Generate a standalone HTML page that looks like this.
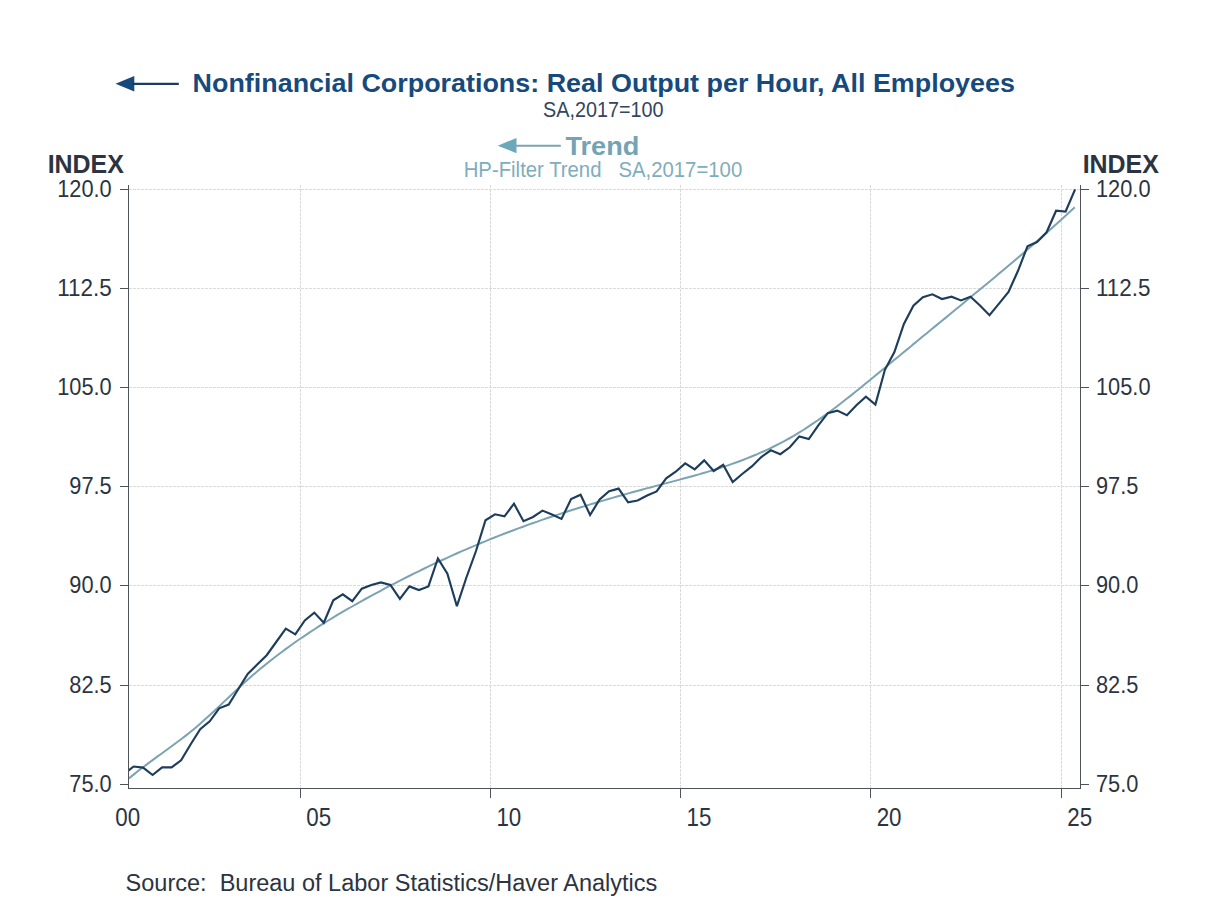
<!DOCTYPE html>
<html><head><meta charset="utf-8"><title>Nonfinancial Corporations: Real Output per Hour</title>
<style>html,body{margin:0;padding:0;background:#fff;width:1208px;height:906px;overflow:hidden;font-family:"Liberation Sans", sans-serif}</style>
</head><body>
<svg width="1208" height="906" viewBox="0 0 1208 906" style="position:absolute;left:0;top:0"><rect width="1208" height="906" fill="#ffffff"/><line x1="129" y1="189.5" x2="1080" y2="189.5" stroke="#dadada" stroke-width="1" stroke-dasharray="3,1"/><line x1="129" y1="288.5" x2="1080" y2="288.5" stroke="#dadada" stroke-width="1" stroke-dasharray="3,1"/><line x1="129" y1="387.5" x2="1080" y2="387.5" stroke="#dadada" stroke-width="1" stroke-dasharray="3,1"/><line x1="129" y1="486.5" x2="1080" y2="486.5" stroke="#dadada" stroke-width="1" stroke-dasharray="3,1"/><line x1="129" y1="585.5" x2="1080" y2="585.5" stroke="#dadada" stroke-width="1" stroke-dasharray="3,1"/><line x1="129" y1="685.5" x2="1080" y2="685.5" stroke="#dadada" stroke-width="1" stroke-dasharray="3,1"/><line x1="300.5" y1="185" x2="300.5" y2="788" stroke="#dadada" stroke-width="1" stroke-dasharray="3,1"/><line x1="490.5" y1="185" x2="490.5" y2="788" stroke="#dadada" stroke-width="1" stroke-dasharray="3,1"/><line x1="680.5" y1="185" x2="680.5" y2="788" stroke="#dadada" stroke-width="1" stroke-dasharray="3,1"/><line x1="870.5" y1="185" x2="870.5" y2="788" stroke="#dadada" stroke-width="1" stroke-dasharray="3,1"/><line x1="1061.5" y1="185" x2="1061.5" y2="788" stroke="#dadada" stroke-width="1" stroke-dasharray="3,1"/><line x1="128.5" y1="185" x2="128.5" y2="789" stroke="#4d5359" stroke-width="1"/><line x1="1080.5" y1="185" x2="1080.5" y2="789" stroke="#4d5359" stroke-width="1"/><line x1="128" y1="788.5" x2="1081" y2="788.5" stroke="#4d5359" stroke-width="1"/><line x1="120" y1="189.5" x2="128.5" y2="189.5" stroke="#4d5359" stroke-width="1"/><line x1="1080.5" y1="189.5" x2="1089" y2="189.5" stroke="#4d5359" stroke-width="1"/><line x1="120" y1="288.5" x2="128.5" y2="288.5" stroke="#4d5359" stroke-width="1"/><line x1="1080.5" y1="288.5" x2="1089" y2="288.5" stroke="#4d5359" stroke-width="1"/><line x1="120" y1="387.5" x2="128.5" y2="387.5" stroke="#4d5359" stroke-width="1"/><line x1="1080.5" y1="387.5" x2="1089" y2="387.5" stroke="#4d5359" stroke-width="1"/><line x1="120" y1="486.5" x2="128.5" y2="486.5" stroke="#4d5359" stroke-width="1"/><line x1="1080.5" y1="486.5" x2="1089" y2="486.5" stroke="#4d5359" stroke-width="1"/><line x1="120" y1="585.5" x2="128.5" y2="585.5" stroke="#4d5359" stroke-width="1"/><line x1="1080.5" y1="585.5" x2="1089" y2="585.5" stroke="#4d5359" stroke-width="1"/><line x1="120" y1="685.5" x2="128.5" y2="685.5" stroke="#4d5359" stroke-width="1"/><line x1="1080.5" y1="685.5" x2="1089" y2="685.5" stroke="#4d5359" stroke-width="1"/><line x1="120" y1="784.5" x2="128.5" y2="784.5" stroke="#4d5359" stroke-width="1"/><line x1="1080.5" y1="784.5" x2="1089" y2="784.5" stroke="#4d5359" stroke-width="1"/><line x1="300.5" y1="788.5" x2="300.5" y2="798" stroke="#4d5359" stroke-width="1"/><line x1="490.5" y1="788.5" x2="490.5" y2="798" stroke="#4d5359" stroke-width="1"/><line x1="680.5" y1="788.5" x2="680.5" y2="798" stroke="#4d5359" stroke-width="1"/><line x1="870.5" y1="788.5" x2="870.5" y2="798" stroke="#4d5359" stroke-width="1"/><line x1="1061.5" y1="788.5" x2="1061.5" y2="798" stroke="#4d5359" stroke-width="1"/><defs><clipPath id="pc"><rect x="129" y="150" width="951" height="638"/></clipPath></defs><polyline clip-path="url(#pc)" points="128.8,778.5 133.6,774.6 138.3,770.8 143.1,767.2 147.8,763.6 152.6,760.1 157.3,756.6 162.1,753.2 166.8,749.8 171.6,746.3 176.3,742.8 181.1,739.2 185.8,735.6 190.6,731.8 195.3,727.9 200.1,723.8 204.8,719.6 209.6,715.3 214.3,710.9 219.1,706.4 223.8,701.9 228.6,697.4 233.3,692.9 238.1,688.4 242.8,684.1 247.6,679.8 252.3,675.6 257.1,671.6 261.8,667.6 266.6,663.8 271.3,660.0 276.1,656.3 280.8,652.7 285.6,649.1 290.3,645.7 295.1,642.3 299.8,639.0 304.6,635.8 309.3,632.6 314.1,629.5 318.8,626.4 323.6,623.4 328.3,620.5 333.1,617.6 337.8,614.7 342.6,611.9 347.3,609.2 352.1,606.5 356.8,603.8 361.6,601.1 366.3,598.5 371.1,595.9 375.8,593.3 380.6,590.8 385.3,588.2 390.1,585.7 394.8,583.3 399.6,580.8 404.3,578.4 409.1,576.0 413.8,573.6 418.6,571.3 423.3,569.0 428.1,566.7 432.8,564.4 437.6,562.2 442.3,560.0 447.1,557.8 451.8,555.7 456.6,553.5 461.3,551.4 466.1,549.4 470.8,547.3 475.6,545.3 480.3,543.3 485.1,541.4 489.8,539.4 494.6,537.5 499.3,535.6 504.1,533.8 508.8,532.0 513.5,530.2 518.3,528.4 523.0,526.7 527.8,524.9 532.5,523.2 537.3,521.6 542.0,519.9 546.8,518.3 551.5,516.7 556.3,515.1 561.0,513.6 565.8,512.0 570.5,510.5 575.3,509.0 580.0,507.5 584.8,506.1 589.5,504.6 594.3,503.2 599.0,501.8 603.8,500.4 608.5,499.0 613.3,497.6 618.0,496.3 622.8,495.0 627.5,493.6 632.3,492.3 637.0,491.0 641.8,489.7 646.5,488.4 651.3,487.2 656.0,485.9 660.8,484.6 665.5,483.4 670.3,482.1 675.0,480.9 679.8,479.6 684.5,478.3 689.3,477.0 694.0,475.7 698.8,474.4 703.5,473.0 708.3,471.6 713.0,470.2 717.8,468.7 722.5,467.1 727.3,465.6 732.0,463.9 736.8,462.2 741.5,460.5 746.3,458.6 751.0,456.7 755.8,454.8 760.5,452.7 765.3,450.6 770.0,448.4 774.8,446.0 779.5,443.6 784.3,441.1 789.0,438.5 793.8,435.8 798.5,432.9 803.3,430.0 808.0,426.9 812.8,423.7 817.5,420.5 822.3,417.1 827.0,413.7 831.8,410.2 836.5,406.7 841.3,403.0 846.0,399.3 850.8,395.6 855.5,391.8 860.3,388.0 865.0,384.1 869.8,380.2 874.5,376.3 879.3,372.4 884.0,368.5 888.8,364.5 893.5,360.6 898.3,356.7 903.0,352.8 907.8,348.9 912.5,344.9 917.3,341.0 922.0,337.1 926.8,333.2 931.5,329.3 936.3,325.4 941.0,321.5 945.8,317.6 950.5,313.7 955.3,309.8 960.0,305.9 964.8,302.0 969.5,298.1 974.3,294.1 979.0,290.2 983.8,286.3 988.5,282.4 993.3,278.4 998.0,274.4 1002.8,270.5 1007.5,266.5 1012.3,262.5 1017.0,258.4 1021.8,254.4 1026.5,250.3 1031.3,246.2 1036.0,242.1 1040.8,238.0 1045.5,233.8 1050.3,229.6 1055.0,225.3 1059.8,221.0 1064.5,216.7 1069.3,212.3 1074.0,207.9 1074.8,207.2" fill="none" stroke="#7ba3b1" stroke-width="2" stroke-linejoin="round"/><polyline clip-path="url(#pc)" points="124.1,773.8 133.6,766.5 143.1,767.6 152.6,775.0 162.1,767.3 171.6,767.3 181.1,760.3 190.7,744.3 200.2,729.2 209.7,721.3 219.2,708.3 228.7,704.6 238.2,689.2 247.7,674.0 257.2,664.5 266.7,655.2 276.2,642.0 285.8,628.6 295.3,634.4 304.8,620.5 314.3,612.6 323.8,622.7 333.3,600.3 342.8,594.3 352.3,601.2 361.8,588.7 371.4,585.0 380.9,582.4 390.4,585.0 399.9,598.9 409.4,586.4 418.9,590.0 428.4,586.4 437.9,558.5 447.4,573.8 456.9,606.2 466.4,577.5 476.0,551.0 485.5,520.3 495.0,514.3 504.5,516.3 514.0,503.7 523.5,521.2 533.0,517.0 542.5,510.6 552.0,514.6 561.5,518.9 571.1,499.1 580.6,494.7 590.1,515.0 599.6,499.5 609.1,491.2 618.6,488.6 628.1,502.4 637.6,500.5 647.1,495.5 656.6,491.5 666.2,478.3 675.7,471.7 685.2,463.4 694.7,469.3 704.2,460.4 713.7,471.0 723.2,464.8 732.7,482.0 742.2,474.0 751.8,466.4 761.3,457.0 770.8,450.3 780.3,454.2 789.8,447.3 799.3,436.4 808.8,439.1 818.3,425.4 827.8,413.1 837.3,410.6 846.9,415.2 856.4,405.2 865.9,396.7 875.4,404.6 884.9,369.8 894.4,352.1 903.9,323.9 913.4,305.7 922.9,297.2 932.4,294.3 942.0,299.0 951.5,296.7 961.0,300.4 970.5,296.7 980.0,305.4 989.5,315.2 999.0,303.6 1008.5,292.0 1018.0,270.8 1027.5,246.3 1037.0,242.0 1046.6,232.3 1056.1,210.7 1065.6,211.5 1075.1,189.3" fill="none" stroke="#1e3d5a" stroke-width="2.15" stroke-linejoin="miter" stroke-miterlimit="3"/><text x="111.70" y="196.70" font-family='"Liberation Sans", sans-serif' font-size="23.89" font-weight="normal" fill="#2b3440" text-anchor="end" textLength="54.50" lengthAdjust="spacingAndGlyphs" xml:space="preserve">120.0</text><text x="1096.00" y="196.70" font-family='"Liberation Sans", sans-serif' font-size="23.89" font-weight="normal" fill="#2b3440" text-anchor="start" textLength="54.50" lengthAdjust="spacingAndGlyphs" xml:space="preserve">120.0</text><text x="111.70" y="295.88" font-family='"Liberation Sans", sans-serif' font-size="23.89" font-weight="normal" fill="#2b3440" text-anchor="end" textLength="54.50" lengthAdjust="spacingAndGlyphs" xml:space="preserve">112.5</text><text x="1096.00" y="295.88" font-family='"Liberation Sans", sans-serif' font-size="23.89" font-weight="normal" fill="#2b3440" text-anchor="start" textLength="54.50" lengthAdjust="spacingAndGlyphs" xml:space="preserve">112.5</text><text x="111.70" y="395.07" font-family='"Liberation Sans", sans-serif' font-size="23.89" font-weight="normal" fill="#2b3440" text-anchor="end" textLength="54.50" lengthAdjust="spacingAndGlyphs" xml:space="preserve">105.0</text><text x="1096.00" y="395.07" font-family='"Liberation Sans", sans-serif' font-size="23.89" font-weight="normal" fill="#2b3440" text-anchor="start" textLength="54.50" lengthAdjust="spacingAndGlyphs" xml:space="preserve">105.0</text><text x="111.70" y="494.25" font-family='"Liberation Sans", sans-serif' font-size="23.89" font-weight="normal" fill="#2b3440" text-anchor="end" textLength="42.39" lengthAdjust="spacingAndGlyphs" xml:space="preserve">97.5</text><text x="1096.00" y="494.25" font-family='"Liberation Sans", sans-serif' font-size="23.89" font-weight="normal" fill="#2b3440" text-anchor="start" textLength="42.39" lengthAdjust="spacingAndGlyphs" xml:space="preserve">97.5</text><text x="111.70" y="593.43" font-family='"Liberation Sans", sans-serif' font-size="23.89" font-weight="normal" fill="#2b3440" text-anchor="end" textLength="42.39" lengthAdjust="spacingAndGlyphs" xml:space="preserve">90.0</text><text x="1096.00" y="593.43" font-family='"Liberation Sans", sans-serif' font-size="23.89" font-weight="normal" fill="#2b3440" text-anchor="start" textLength="42.39" lengthAdjust="spacingAndGlyphs" xml:space="preserve">90.0</text><text x="111.70" y="692.62" font-family='"Liberation Sans", sans-serif' font-size="23.89" font-weight="normal" fill="#2b3440" text-anchor="end" textLength="42.39" lengthAdjust="spacingAndGlyphs" xml:space="preserve">82.5</text><text x="1096.00" y="692.62" font-family='"Liberation Sans", sans-serif' font-size="23.89" font-weight="normal" fill="#2b3440" text-anchor="start" textLength="42.39" lengthAdjust="spacingAndGlyphs" xml:space="preserve">82.5</text><text x="111.70" y="791.80" font-family='"Liberation Sans", sans-serif' font-size="23.89" font-weight="normal" fill="#2b3440" text-anchor="end" textLength="42.39" lengthAdjust="spacingAndGlyphs" xml:space="preserve">75.0</text><text x="1096.00" y="791.80" font-family='"Liberation Sans", sans-serif' font-size="23.89" font-weight="normal" fill="#2b3440" text-anchor="start" textLength="42.39" lengthAdjust="spacingAndGlyphs" xml:space="preserve">75.0</text><text x="127.70" y="826.00" font-family='"Liberation Sans", sans-serif' font-size="25.60" font-weight="normal" fill="#2b3440" text-anchor="middle" textLength="24.85" lengthAdjust="spacingAndGlyphs" xml:space="preserve">00</text><text x="318.70" y="826.00" font-family='"Liberation Sans", sans-serif' font-size="25.60" font-weight="normal" fill="#2b3440" text-anchor="middle" textLength="24.85" lengthAdjust="spacingAndGlyphs" xml:space="preserve">05</text><text x="508.80" y="826.00" font-family='"Liberation Sans", sans-serif' font-size="25.60" font-weight="normal" fill="#2b3440" text-anchor="middle" textLength="24.85" lengthAdjust="spacingAndGlyphs" xml:space="preserve">10</text><text x="699.00" y="826.00" font-family='"Liberation Sans", sans-serif' font-size="25.60" font-weight="normal" fill="#2b3440" text-anchor="middle" textLength="24.85" lengthAdjust="spacingAndGlyphs" xml:space="preserve">15</text><text x="889.10" y="826.00" font-family='"Liberation Sans", sans-serif' font-size="25.60" font-weight="normal" fill="#2b3440" text-anchor="middle" textLength="24.85" lengthAdjust="spacingAndGlyphs" xml:space="preserve">20</text><text x="1079.70" y="826.00" font-family='"Liberation Sans", sans-serif' font-size="25.60" font-weight="normal" fill="#2b3440" text-anchor="middle" textLength="24.85" lengthAdjust="spacingAndGlyphs" xml:space="preserve">25</text><text x="192.60" y="91.80" font-family='"Liberation Sans", sans-serif' font-size="26.39" font-weight="bold" fill="#174a7c" text-anchor="start" textLength="822.30" lengthAdjust="spacingAndGlyphs" xml:space="preserve">Nonfinancial Corporations: Real Output per Hour, All Employees</text><text x="543.10" y="116.60" font-family='"Liberation Sans", sans-serif' font-size="22.60" font-weight="normal" fill="#33465a" text-anchor="start" textLength="120.40" lengthAdjust="spacingAndGlyphs" xml:space="preserve">SA,2017=100</text><text x="565.50" y="154.50" font-family='"Liberation Sans", sans-serif' font-size="25.80" font-weight="bold" fill="#74a3b4" text-anchor="start" textLength="73.80" lengthAdjust="spacingAndGlyphs" xml:space="preserve">Trend</text><text x="463.70" y="177.30" font-family='"Liberation Sans", sans-serif' font-size="21.26" font-weight="normal" fill="#80adbd" text-anchor="start" textLength="278.51" lengthAdjust="spacingAndGlyphs" xml:space="preserve">HP-Filter Trend   SA,2017=100</text><text x="47.70" y="172.80" font-family='"Liberation Sans", sans-serif' font-size="24.90" font-weight="bold" fill="#2b3440" text-anchor="start" textLength="76.20" lengthAdjust="spacingAndGlyphs" xml:space="preserve">INDEX</text><text x="1082.70" y="172.80" font-family='"Liberation Sans", sans-serif' font-size="24.90" font-weight="bold" fill="#2b3440" text-anchor="start" textLength="76.20" lengthAdjust="spacingAndGlyphs" xml:space="preserve">INDEX</text><text x="125.60" y="891.20" font-family='"Liberation Sans", sans-serif' font-size="23.97" font-weight="normal" fill="#2b3440" text-anchor="start" textLength="531.70" lengthAdjust="spacingAndGlyphs" xml:space="preserve">Source:  Bureau of Labor Statistics/Haver Analytics</text><path d="M115.5,83.8 L134.3,76 L134.3,91.5 Z" fill="#174a7c"/><line x1="132" y1="83.8" x2="178.8" y2="83.8" stroke="#1b3c5e" stroke-width="2.2"/><path d="M497.7,145.7 L516.5,137.9 L516.5,153.2 Z" fill="#6ca8bc"/><line x1="514" y1="145.8" x2="560.8" y2="145.8" stroke="#7ba3b1" stroke-width="2.1"/></svg>
</body></html>
